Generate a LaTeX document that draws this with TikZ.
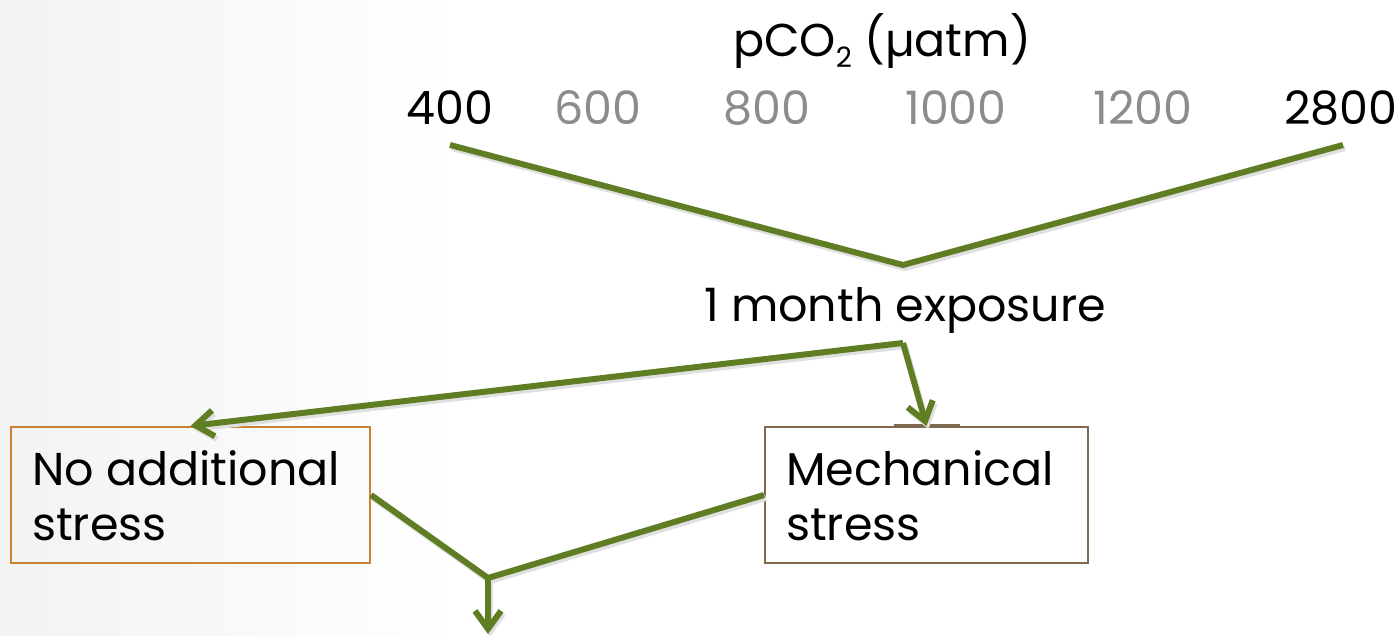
\documentclass[tikz,border=0pt]{standalone}
\usepackage{fontspec}
\setmainfont{Poppins}
\usetikzlibrary{arrows.meta}
\definecolor{lgreen}{RGB}{95,126,36}
\definecolor{numgray}{RGB}{140,140,140}
\definecolor{boxorange}{RGB}{200,130,50}
\definecolor{boxbrown}{RGB}{128,106,80}
\begin{document}
\begin{tikzpicture}[x=1pt,y=-1pt,
  conn/.style={draw=lgreen,line width=6pt,
    preaction={draw=black!12,line width=6pt,transform canvas={shift={(2pt,-3pt)}}}},
  arr/.style={conn,-{Straight Barb[length=18pt,width=26pt]}},
  txt/.style={font=\fontsize{46}{55}\selectfont,inner sep=0pt,anchor=base},
  boxtext/.style={font=\fontsize{46}{55}\selectfont,align=left,inner sep=0pt,anchor=north west},
  box/.style={line width=2pt,minimum height=136pt,inner sep=0pt}
  ]
\useasboundingbox (0,0) rectangle (1398,636);
\fill[white] (0,0) rectangle (1398,636);
\shade[left color=black!5,right color=white] (0,0) rectangle (460,636);

\node[txt] (pco) at (882,57) {pCO{\fontsize{28}{28}\selectfont\raisebox{-11pt}{2}} (µatm)};

\node[txt] (n400) at (450,125) {400};
\node[txt,text=numgray] (n600) at (598,125) {600};
\node[txt,text=numgray] (n800) at (767,125) {800};
\node[txt,text=numgray] (n1000) at (956,125) {1000};
\node[txt,text=numgray] (n1200) at (1143,125) {1200};
\node[txt] (n2800) at (1341,125) {2800};

\node[txt] (expo) at (905,322) {1 month exposure};

\node[box,draw=boxorange,minimum width=359pt] (lbox) at (190.5,495) {};
\node[box,draw=boxbrown,minimum width=323pt] (rbox) at (926.5,495) {};
\node[boxtext] (ltext) at (32,450) {No additional\\stress};
\node[boxtext] (rtext) at (786,450) {Mechanical\\stress};
\draw[boxbrown,line width=3.5pt] ([xshift=-33pt]rbox.north) -- ([xshift=33pt]rbox.north);

\coordinate (vl) at (450,145);
\coordinate (vr) at (1343,145);
\coordinate (vtip) at (903,265);
\coordinate (corner) at (903,343);
\coordinate (join) at (488,578);
\coordinate (out) at (488,634);

\draw[conn] (vl) -- (vtip) -- (vr);
\draw[arr] (corner) -- (lbox.north);
\draw[arr] (corner) -- (rbox.north);
\draw[conn] (lbox.east) -- (join) -- (rbox.west);
\draw[arr] (join) -- (out);
\end{tikzpicture}
\end{document}
